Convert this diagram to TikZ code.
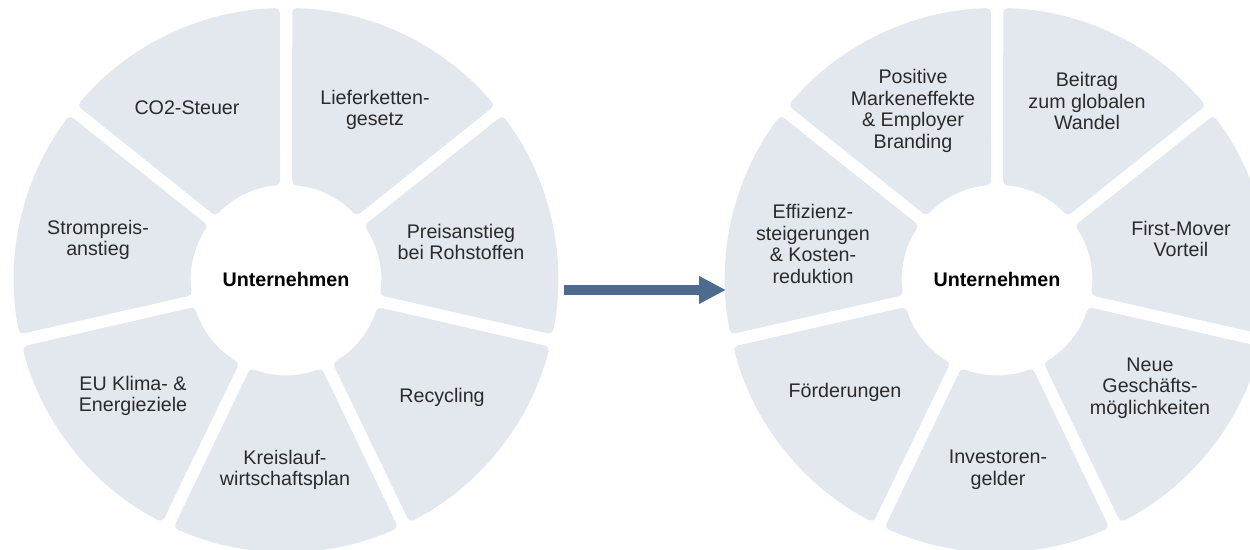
\documentclass[tikz,border=0pt]{standalone}
\usepackage{fontspec}
\setmainfont{Liberation Sans}
\usepackage{tikz}
\usetikzlibrary{arrows.meta}

\definecolor{segfill}{HTML}{E3E7EE}
\definecolor{txtgray}{HTML}{2B2B2B}
\definecolor{arrblue}{HTML}{4D6B8C}

\tikzset{
  seg/.pic={\fill[segfill,rounded corners=2.5pt] ({#1+1.3}:272) arc[start angle={#1+1.3},end angle={#1+50.1},radius=272]
    -- ({#1+47.8}:95) arc[start angle={#1+47.8},end angle={#1+3.6},radius=95] -- cycle;},
  lbl/.style={align=center,inner sep=0pt,text=txtgray,font=\fontsize{11.2}{12.3}\selectfont},
  hub/.style={lbl,text=black,font=\fontsize{11.2}{12.3}\selectfont\bfseries}
}

\begin{document}
\begin{tikzpicture}[x=0.02cm,y=0.02cm]
\useasboundingbox (0,0) rectangle (1250,550);
\clip (0,0) rectangle (1250,550);
% left ring
\pic at (286,270) {seg=90}; \pic at (286,270) {seg=141.43}; \pic at (286,270) {seg=192.86};
\pic at (286,270) {seg=244.29}; \pic at (286,270) {seg=295.71}; \pic at (286,270) {seg=347.14};
\pic at (286,270) {seg=38.57};
\node[hub] (firmL) at (286,271) {Unternehmen};
\node[lbl] (co2) at (187,442) {CO2-Steuer};
\node[lbl] (liefer) at (375,440) {Lieferketten-\\gesetz};
\node[lbl] (preis) at (461,308) {Preisanstieg\\bei Rohstoffen};
\node[lbl] (recyc) at (442,153) {Recycling};
\node[lbl] (kreis) at (285,80) {Kreislauf-\\wirtschaftsplan};
\node[lbl] (euziel) at (133,154) {EU Klima- \&\\Energieziele};
\node[lbl] (strom) at (98,310) {Strompreis-\\anstieg};
% right ring
\pic at (997,270) {seg=90}; \pic at (997,270) {seg=141.43}; \pic at (997,270) {seg=192.86};
\pic at (997,270) {seg=244.29}; \pic at (997,270) {seg=295.71}; \pic at (997,270) {seg=347.14};
\pic at (997,270) {seg=38.57};
\node[hub] (firmR) at (997,271) {Unternehmen};
\node[lbl] (marke) at (913,439) {Positive\\Markeneffekte\\\& Employer\\Branding};
\node[lbl] (beitrag) at (1087,449) {Beitrag\\zum globalen\\Wandel};
\node[lbl] (mover) at (1181,311) {First-Mover\\Vorteil};
\node[lbl] (neu) at (1150,162) {Neue\\Geschäfts-\\möglichkeiten};
\node[lbl] (invest) at (998,80) {Investoren-\\gelder};
\node[lbl] (foerder) at (845,158) {Förderungen};
\node[lbl] (effiz) at (813,306) {Effizienz-\\steigerungen\\\& Kosten-\\reduktion};
% arrow
\coordinate (arrL) at (564,260);
\coordinate (arrR) at (726,260);
\draw[arrblue,line width=0.2cm,-{Triangle[length=0.54cm,width=0.52cm]}] (arrL) -- (arrR);
\end{tikzpicture}
\end{document}
